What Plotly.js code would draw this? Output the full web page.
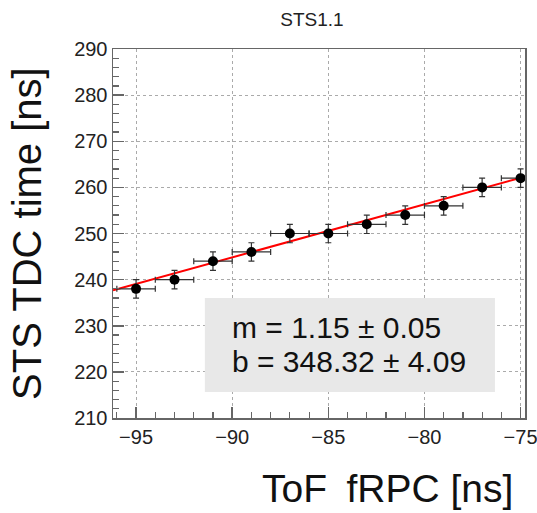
<!DOCTYPE html>
<html>
<head>
<meta charset="utf-8">
<script src="https://cdn.plot.ly/plotly-3.0.1.min.js"></script>
<style>html,body{margin:0;padding:0;background:#fff;}#chart{width:537px;height:513px;}</style>
</head>
<body>
<div id="chart"></div>
<script>
// Data
const tofX = [-95, -93, -91, -89, -87, -85, -83, -81, -79, -77, -75];
const stsY = [238, 240, 244, 246, 250, 250, 252, 254, 256, 260, 262];
const xErr = [1, 1, 1, 1, 1, 1, 1, 1, 1, 1, 1];
const yErr = [2, 2, 2, 2, 2, 2, 2, 2, 2, 2, 2];
const fitM = 1.15, fitMErr = 0.05;
const fitB = 348.32, fitBErr = 4.09;
const xRange = [-96.2, -74.77];
const yRange = [210, 290];
const fitX = [xRange[0], xRange[1]];
const fitY = fitX.map(x => fitM * x + fitB);

const font = "'Liberation Sans', Arial, sans-serif";
const axisCommon = {
  showline: true, mirror: true, linecolor: '#666', linewidth: 1.5,
  ticks: 'inside', ticklen: 11, tickwidth: 1.5, tickcolor: '#666',
  showgrid: true, gridcolor: '#aaa', griddash: 'dot', gridwidth: 1,
  zeroline: false, ticklabeloverflow: 'allow',
  tickfont: {family: font, size: 20, color: '#222'},
};

const traces = [
  {
    x: fitX, y: fitY, type: 'scatter', mode: 'lines',
    line: {color: '#ff0000', width: 2}, hoverinfo: 'skip', showlegend: false
  },
  {
    x: tofX, y: stsY, type: 'scatter', mode: 'markers',
    marker: {color: '#000', size: 10},
    error_x: {type: 'data', array: xErr, visible: true, color: '#333', thickness: 1.2, width: 3},
    error_y: {type: 'data', array: yErr, visible: true, color: '#333', thickness: 1.2, width: 3},
    showlegend: false
  }
];

const layout = {
  width: 537, height: 513,
  margin: {l: 113, r: 12, t: 49, b: 95, pad: 0},
  paper_bgcolor: '#fff', plot_bgcolor: '#fff',
  showlegend: false,
  title: {text: 'STS1.1', font: {family: font, size: 19, color: '#222'}, x: 0.581, xanchor: 'center', y: 0.963, yanchor: 'middle'},
  xaxis: Object.assign({}, axisCommon, {
    range: xRange, tickmode: 'linear', tick0: -95, dtick: 5,
    minor: {ticks: 'inside', ticklen: 6, dtick: 1, tick0: -95, tickcolor: '#666', tickwidth: 1.2, showgrid: false}
  }),
  yaxis: Object.assign({}, axisCommon, {
    range: yRange, tickmode: 'linear', tick0: 210, dtick: 10,
    minor: {ticks: 'inside', ticklen: 6, dtick: 2, tick0: 210, tickcolor: '#666', tickwidth: 1.2, showgrid: false}
  }),
  shapes: [
    {type: 'rect', xref: 'paper', yref: 'paper', x0: 0.223, x1: 0.927, y0: 0.0705, y1: 0.325,
     fillcolor: '#e8e8e8', line: {width: 0}, layer: 'above'}
  ],
  annotations: [
    {xref: 'paper', yref: 'paper', x: 0.284, y: 0.244, xanchor: 'left', yanchor: 'middle', showarrow: false,
     text: 'm = ' + fitM.toFixed(2) + ' ± ' + fitMErr.toFixed(2), font: {family: font, size: 30, color: '#111'}},
    {xref: 'paper', yref: 'paper', x: 0.284, y: 0.152, xanchor: 'left', yanchor: 'middle', showarrow: false,
     text: 'b = ' + fitB.toFixed(2) + ' ± ' + fitBErr.toFixed(2), font: {family: font, size: 30, color: '#111'}},
    {xref: 'paper', yref: 'paper', x: 1.0, y: -0.19, xanchor: 'right', yanchor: 'middle', showarrow: false,
     xshift: -10,
     text: 'ToF\u2002fRPC [ns]', font: {family: font, size: 39, color: '#111'}},
    {xref: 'paper', yref: 'paper', x: -0.21, y: 0.5, xanchor: 'center', yanchor: 'middle', showarrow: false,
     textangle: -90,
     text: 'STS TDC time [ns]', font: {family: font, size: 40, color: '#111'}}
  ]
};

Plotly.newPlot('chart', traces, layout, {displayModeBar: false, staticPlot: true});
</script>
</body>
</html>
